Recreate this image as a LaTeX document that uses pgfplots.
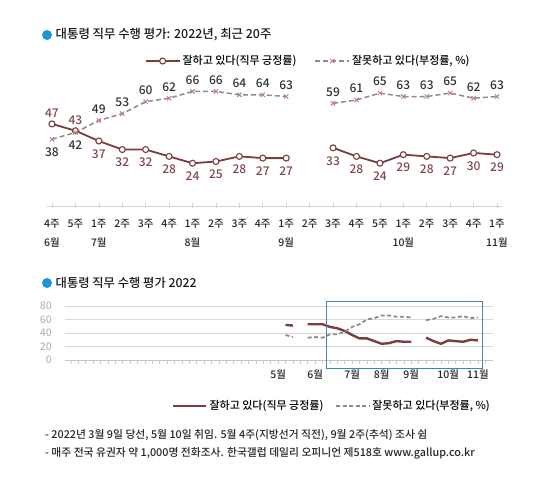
\documentclass[border=0pt]{standalone}
\usepackage{fontspec}
\setmainfont{Noto Sans CJK KR}[UprightFont=* Medium]
\usepackage{pgfplots}
\pgfplotsset{compat=1.18}
\usepackage{pgfplotstable}

\definecolor{cpos}{RGB}{122,62,62}
\definecolor{cposlbl}{RGB}{128,72,72}
\definecolor{cneg}{RGB}{140,140,140}
\definecolor{cnegmark}{RGB}{190,130,130}
\definecolor{cneglbl}{RGB}{50,50,50}
\definecolor{cbullet}{RGB}{27,150,216}
\definecolor{cboxc}{RGB}{60,140,160}

\pgfplotstableread{
x y
0 47
1 43
2 37
3 32
4 32
5 28
6 24
7 25
8 28
9 27
10 27
11 nan
12 33
13 28
14 24
15 29
16 28
17 27
18 30
19 29
}\posTop

\pgfplotstableread{
x y
0 38
1 42
2 49
3 53
4 60
5 62
6 66
7 66
8 64
9 64
10 63
11 nan
12 59
13 61
14 65
15 63
16 63
17 65
18 62
19 63
}\negTop

\pgfplotstableread{
x y
-7 52
-6 51
-5 nan
-4 53
-3 53
-2 53
-1 49
0 47
1 43
2 37
3 32
4 32
5 28
6 24
7 25
8 28
9 27
10 27
11 nan
12 33
13 28
14 24
15 29
16 28
17 27
18 30
19 29
}\posBot

\pgfplotstableread{
x y
-7 37
-6 34
-5 nan
-4 33
-3 34
-2 33
-1 38
0 38
1 42
2 49
3 53
4 60
5 62
6 66
7 66
8 64
9 64
10 63
11 nan
12 59
13 61
14 65
15 63
16 63
17 65
18 62
19 63
}\negBot

\begin{document}
\begin{tikzpicture}
\useasboundingbox (0,0) rectangle (537pt,492pt);

% ---------- top chart ----------
\begin{axis}[
  at={(47.3pt,286pt)}, anchor=south west, scale only axis,
  width=454.4pt, height=130pt,
  xmin=-0.2, xmax=19.2, ymin=-1, ymax=75,
  axis x line*=bottom, axis y line=none,
  x axis line style={draw=gray!35, line width=0.8pt},
  xtick={0,...,19},
  xticklabels={{4주\\6월},{5주},{1주\\7월},{2주},{3주},{4주},{1주\\8월},{2주},{3주},{4주},{1주\\9월},{2주},{3주},{4주},{5주},{1주\\10월},{2주},{3주},{4주},{1주\\11월}},
  tick align=center, major tick length=5pt,
  xtick style={gray!35, line width=0.6pt},
  xticklabel style={align=center, anchor=north, font=\fontsize{10.5}{19}\selectfont, text=black!85, yshift=-7pt},
  ytick=\empty,
  clip=false, unbounded coords=jump,
  /pgf/number format/assume math mode=true,
  legend style={at={(axis description cs:0.214,1.115)}, anchor=west, draw=none, fill=none,
    legend columns=2, font=\fontsize{11}{13}\selectfont, inner sep=0pt,
    /tikz/every even column/.append style={column sep=16pt}},
  legend image code/.code={\draw[mark repeat=2,mark phase=2,#1] plot coordinates {(0pt,0pt) (17pt,0pt) (34pt,0pt)};},
]
\addplot[cpos, line width=1.8pt, mark=*, mark size=3pt,
  mark options={fill=white, draw=cpos, line width=1.1pt, solid}] table[x=x,y=y] {\posTop};
\addlegendentry{잘하고 있다(직무 긍정률)}
\addplot[cneg, line width=1.5pt, dash pattern=on 5pt off 3pt, mark=x, mark size=3pt,
  mark options={cnegmark, line width=1pt, solid}] table[x=x,y=y] {\negTop};
\addlegendentry{잘못하고 있다(부정률, \%)}

% labels: approval
\addplot[draw=none, forget plot, restrict x to domain=0:1, nodes near coords,
  every node near coord/.append style={anchor=center, yshift=11pt, inner sep=0pt,
    font=\fontsize{12}{14}\selectfont, text=cposlbl}] table[x=x,y=y] {\posTop};
\addplot[draw=none, forget plot, restrict x to domain=2:19, nodes near coords,
  every node near coord/.append style={anchor=center, yshift=-13pt, inner sep=0pt,
    font=\fontsize{12}{14}\selectfont, text=cposlbl}] table[x=x,y=y] {\posTop};
% labels: disapproval
\addplot[draw=none, forget plot, restrict x to domain=0:1, nodes near coords,
  every node near coord/.append style={anchor=center, yshift=-12.5pt, inner sep=0pt,
    font=\fontsize{12}{14}\selectfont, text=cneglbl}] table[x=x,y=y] {\negTop};
\addplot[draw=none, forget plot, restrict x to domain=2:19, nodes near coords,
  every node near coord/.append style={anchor=center, yshift=11.5pt, inner sep=0pt,
    font=\fontsize{12}{14}\selectfont, text=cneglbl}] table[x=x,y=y] {\negTop};
\end{axis}

% ---------- bottom chart ----------
\begin{axis}[
  at={(65pt,132pt)}, anchor=south west, scale only axis,
  width=427.7pt, height=54pt,
  xmin=-36.8, xmax=21, ymin=0, ymax=80,
  axis lines*=left,
  y axis line style={draw=none},
  x axis line style={draw=gray!45, line width=0.8pt},
  ytick={0,20,40,60,80}, ymajorgrids, grid style={gray!30, line width=0.6pt},
  yticklabel style={text=gray!55, font=\fontsize{10.5}{12}\selectfont, xshift=-5pt},
  ytick style={draw=none},
  xtick={-8,-3,2,6,10,15,19},
  xticklabels={5월,6월,7월,8월,9월,10월,11월},
  minor xtick={-36,...,20},
  tick align=outside, major tick length=4.5pt, minor tick length=4.5pt,
  xtick style={gray!40, line width=0.6pt},
  minor tick style={gray!40, line width=0.6pt},
  xticklabel style={font=\fontsize{10.5}{12}\selectfont, text=black!85, yshift=-2pt},
  clip=false, unbounded coords=jump,
  /pgf/number format/assume math mode=true,
  legend style={at={(axis description cs:0.250,-0.852)}, anchor=west, draw=none, fill=none,
    legend columns=2, font=\fontsize{11}{13}\selectfont, inner sep=0pt,
    /tikz/every even column/.append style={column sep=10pt}},
  legend image code/.code={\draw[#1] (0pt,0pt) -- (33pt,0pt);},
]
\addplot[cpos, line width=2.4pt] table[x=x,y=y] {\posBot};
\addlegendentry{잘하고 있다(직무 긍정률)}
\addplot[cneg, line width=1.8pt, dash pattern=on 4pt off 2.5pt] table[x=x,y=y] {\negBot};
\addlegendentry{잘못하고 있다(부정률, \%)}
\draw[cboxc, line width=1pt] (axis cs:-1.5,-11.9) rectangle (axis cs:19.6,86);
\end{axis}

% ---------- titles and notes ----------
\fill[cbullet] (47pt,457pt) circle (5pt);
\node[anchor=west, inner sep=0pt, font=\fontsize{12.4}{14}\selectfont, text=black!90] at (55.5pt,457pt) {대통령 직무 수행 평가: 2022년, 최근 20주};
\fill[cbullet] (47pt,209pt) circle (5pt);
\node[anchor=west, inner sep=0pt, font=\fontsize{12.3}{14}\selectfont, text=black!90] at (55.5pt,209pt) {대통령 직무 수행 평가 2022};
\node[anchor=west, inner sep=0pt, font=\fontsize{10.8}{12}\selectfont, text=black!85] at (45pt,57pt) {- 2022년 3월 9일 당선, 5월 10일 취임. 5월 4주(지방선거 직전), 9월 2주(추석) 조사 쉼};
\node[anchor=west, inner sep=0pt, font=\fontsize{10.8}{12}\selectfont, text=black!85] at (45pt,39pt) {- 매주 전국 유권자 약 1,000명 전화조사. 한국갤럽 데일리 오피니언 제518호 www.gallup.co.kr};
\end{tikzpicture}
\end{document}
